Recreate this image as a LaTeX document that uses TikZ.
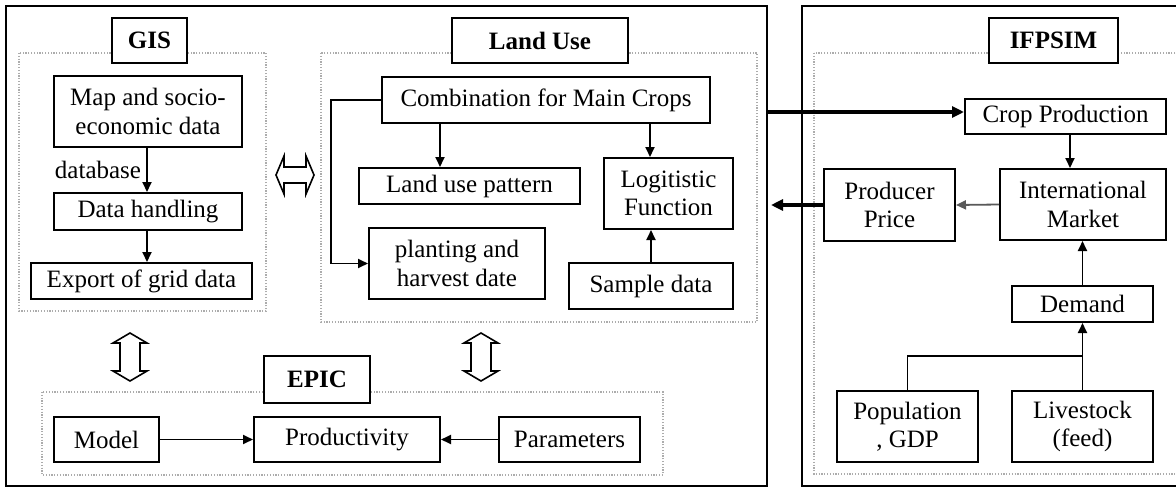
\documentclass[tikz,border=0pt]{standalone}
\usepackage{fontspec}
\setmainfont{Liberation Serif}
\usetikzlibrary{arrows.meta,calc}
\tikzset{
  box/.style={draw, line width=2pt, fill=white, inner sep=0pt, align=center,
    font=\fontsize{25}{28.5}\selectfont},
  ttl/.style={box, font=\fontsize{25}{28.5}\selectfont\bfseries},
  panel/.style={draw, line width=2pt, inner sep=0pt},
  frame/.style={draw=gray!65, line width=1.2pt, dash pattern=on 1.2pt off 1.6pt},
  arr/.style={draw, line width=1.8pt, -{Triangle[length=10pt,width=9pt]}},
  garr/.style={arr, draw=gray!70!black},
  thickarr/.style={draw, line width=3.4pt, -{Triangle[length=12pt,width=11pt]}},
  plain/.style={draw, line width=1.8pt},
  dbl/.style={draw, line width=1.6pt, fill=white},
}
\begin{document}
\begin{tikzpicture}[x=1pt,y=-1pt]
\clip (0,0) rectangle (1176,488);
\fill[white] (0,0) rectangle (1176,488);

% outer panels
\node[panel, minimum width=761pt, minimum height=480pt] (leftpanel) at (386.5,246) {};
\node[panel, minimum width=383pt, minimum height=480pt] (rightpanel) at (993.5,246) {};

% dotted frames
\draw[frame] (19,53) rectangle (266,311);
\draw[frame] (321,53) rectangle (757,322);
\draw[frame] (42,392) rectangle (663,475);
\draw[frame] (814,53) rectangle (1177,474);

% titles
\node[ttl, minimum width=75pt, minimum height=45pt] (gis) at (149.5,40.5) {GIS};
\node[ttl, minimum width=176pt, minimum height=45pt] (landuse) at (540,40.5) {Land Use};
\node[ttl, minimum width=129pt, minimum height=45pt] (ifpsim) at (1053.5,40.5) {IFPSIM};
\node[ttl, minimum width=106pt, minimum height=47pt] (epic) at (317,379.5) {EPIC};

% GIS
\node[box, minimum width=188pt, minimum height=71pt] (map) at (148,111.5) {Map and socio-\\economic data};
\node[box, minimum width=188pt, minimum height=37pt] (dh) at (148,211.5) {Data handling};
\node[box, minimum width=221pt, minimum height=36pt] (export) at (141.5,281) {Export of grid data};
\node[font=\fontsize{25}{28.5}\selectfont, inner sep=0pt] (dblabel) at (98,170) {database};

% Land use
\node[box, minimum width=328pt, minimum height=46pt] (comb) at (546,100) {Combination for Main Crops};
\node[box, minimum width=221pt, minimum height=36pt] (lup) at (469.5,186) {Land use pattern};
\node[box, minimum width=129pt, minimum height=71pt] (logit) at (668.5,193.5) {Logitistic\\Function};
\node[box, minimum width=176pt, minimum height=71pt] (plant) at (457,263.5) {planting and\\harvest date};
\node[box, minimum width=164pt, minimum height=46pt] (sample) at (651,286) {Sample data};

% EPIC
\node[box, minimum width=105pt, minimum height=45pt] (model) at (106.5,439.5) {Model};
\node[box, minimum width=186pt, minimum height=45pt] (prod) at (347,439.5) {Productivity};
\node[box, minimum width=141pt, minimum height=45pt] (param) at (569.5,439.5) {Parameters};

% IFPSIM
\node[box, minimum width=201pt, minimum height=35pt] (crop) at (1065.5,116.5) {Crop Production};
\node[box, minimum width=166pt, minimum height=71pt] (intl) at (1083,204.5) {International\\Market};
\node[box, minimum width=131pt, minimum height=72pt] (pp) at (889.5,205) {Producer\\Price};
\node[box, minimum width=141pt, minimum height=36pt] (demand) at (1082.5,304) {Demand};
\node[box, minimum width=141pt, minimum height=71pt] (pop) at (907.5,426.5) {Population\\, GDP};
\node[box, minimum width=141pt, minimum height=71pt] (live) at (1082.5,426.5) {Livestock\\(feed)};

% connectors GIS
\draw[arr] ([xshift=-1pt]map.south) -- ([xshift=-1pt]dh.north);
\draw[arr] ([xshift=-1pt]dh.south) -- ([xshift=-1pt]dh.south |- export.north);

% connectors Land use
\draw[arr] (comb.west) -- ++(-50,0) |- (plant.west);
\draw[arr] ([xshift=-106pt]comb.south) -- ([xshift=-29.5pt]lup.north);
\draw[arr] ([xshift=104pt]comb.south) -- ([xshift=-18.5pt]logit.north);
\draw[arr] (sample.north) -- (sample.north |- logit.south);

% connectors EPIC
\draw[arr] (model.east) -- (prod.west);
\draw[arr] (param.west) -- (prod.east);

% connectors IFPSIM
\coordinate (cropin) at ([yshift=4.5pt]crop.west);
\draw[thickarr] (leftpanel.east |- cropin) -- (cropin);
\draw[arr] ([xshift=4.5pt]crop.south) -- ([xshift=-13pt]intl.north);
\draw[garr] (intl.west) -- (pp.east);
\draw[thickarr] (pp.west) -- ([xshift=3pt]leftpanel.east |- pp.west);
\draw[arr] (demand.north) -- (demand.north |- intl.south);
\draw[arr] (live.north) -- (demand.south);
\draw[plain] (pop.north) |- ([yshift=34pt]live.north);

% hollow double arrows
\draw[dbl] (276,175) -- (284,156) -- (284,167) -- (306,167) -- (306,156) -- (314,175)
  -- (306,194) -- (306,183) -- (284,183) -- (284,194) -- cycle;
\draw[dbl] (130,333) -- (113,343) -- (120,343) -- (120,371) -- (113,371) -- (130,381)
  -- (147,371) -- (140,371) -- (140,343) -- (147,343) -- cycle;
\draw[dbl] (481,333) -- (464,343) -- (471,343) -- (471,371) -- (464,371) -- (481,381)
  -- (498,371) -- (491,371) -- (491,343) -- (498,343) -- cycle;
\end{tikzpicture}
\end{document}
